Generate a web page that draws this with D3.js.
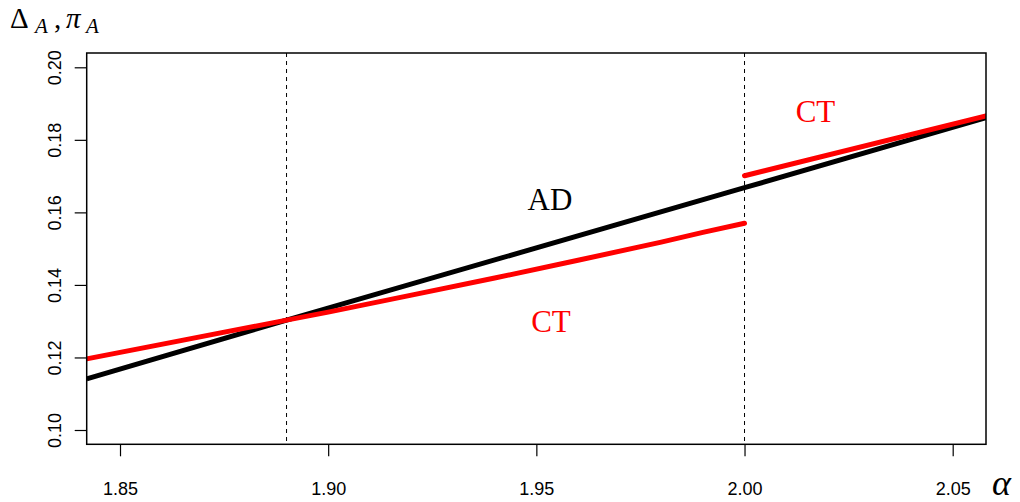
<!DOCTYPE html>
<html>
<head>
<meta charset="utf-8">
<script src="https://cdn.jsdelivr.net/npm/d3@7"></script>
<style>
  body { margin: 0; background: #fff; }
  svg { display: block; }
</style>
</head>
<body>
<div id="chart"></div>
<script>
// data
var alphaAD = [1.842, 1.89, 2.00, 2.058];
var valueAD = [0.1141, 0.1303, 0.1668, 0.1861];

var alphaCTlow = [1.842, 1.89, 1.90, 1.92, 1.94, 1.96, 1.98, 1.99, 2.00];
var valueCTlow = [0.1196, 0.1303, 0.1325, 0.1372, 0.1419, 0.1468, 0.1518, 0.1545, 0.1570];

var alphaCThigh = [2.00, 2.058];
var valueCThigh = [0.1701, 0.1866];

var xTicks = [1.85, 1.90, 1.95, 2.00, 2.05];
var yTicks = [0.10, 0.12, 0.14, 0.16, 0.18, 0.20];
var cutAlphas = [1.89, 2.00];

const W = 1020, H = 502;
const pLeft = 86.7, pRight = 986, pTop = 53, pBottom = 444.3;

const x = d3.scaleLinear().domain([1.842, 2.058]).range([pLeft, pRight]);
const y = d3.scaleLinear().domain([0.10, 0.20]).range([430, 67.3]);

const svg = d3.select("#chart").append("svg")
  .attr("width", W).attr("height", H);

const line = d3.line()
  .x((d) => x(d[0]))
  .y((d) => y(d[1]));

function pairs(a, b) {
  return a.map((v, i) => [v, b[i]]);
}

// clip to the plot region
svg.append("defs").append("clipPath").attr("id", "plotclip")
  .append("rect")
  .attr("x", pLeft).attr("y", pTop)
  .attr("width", pRight - pLeft).attr("height", pBottom - pTop);

// dashed cut lines
svg.selectAll(".cut").data(cutAlphas).enter()
  .append("line")
  .attr("class", "cut")
  .attr("x1", (d) => x(d)).attr("x2", (d) => x(d))
  .attr("y1", pTop).attr("y2", pBottom)
  .attr("stroke", "black")
  .attr("stroke-width", 1)
  .attr("stroke-dasharray", "4,4");

const plot = svg.append("g").attr("clip-path", "url(#plotclip)");

plot.append("path")
  .datum(pairs(alphaAD, valueAD))
  .attr("d", line)
  .attr("fill", "none")
  .attr("stroke", "black")
  .attr("stroke-width", 5);

plot.append("path")
  .datum(pairs(alphaCTlow, valueCTlow))
  .attr("d", line)
  .attr("fill", "none")
  .attr("stroke", "#ff0000")
  .attr("stroke-width", 5)
  .attr("stroke-linecap", "round");

plot.append("path")
  .datum(pairs(alphaCThigh, valueCThigh))
  .attr("d", line)
  .attr("fill", "none")
  .attr("stroke", "#ff0000")
  .attr("stroke-width", 5)
  .attr("stroke-linecap", "round");

// box
svg.append("rect")
  .attr("x", pLeft).attr("y", pTop)
  .attr("width", pRight - pLeft).attr("height", pBottom - pTop)
  .attr("fill", "none")
  .attr("stroke", "black")
  .attr("stroke-width", 1.5);

// axes
const xAxis = svg.append("g")
  .attr("transform", `translate(0,${pBottom})`)
  .call(d3.axisBottom(x).tickValues(xTicks).tickFormat(d3.format(".2f")).tickSize(12).tickPadding(26));
xAxis.select(".domain").remove();
xAxis.selectAll("line").attr("stroke-width", 1.2);
xAxis.selectAll("text")
  .attr("font-family", "Liberation Sans, Arial, sans-serif")
  .attr("font-size", 18)
  .attr("fill", "black");

const yAxis = svg.append("g")
  .attr("transform", `translate(${pLeft},0)`)
  .call(d3.axisLeft(y).tickValues(yTicks).tickFormat(d3.format(".2f")).tickSize(12));
yAxis.select(".domain").remove();
yAxis.selectAll("line").attr("stroke-width", 1.2);
yAxis.selectAll("text")
  .attr("font-family", "Liberation Sans, Arial, sans-serif")
  .attr("font-size", 18)
  .attr("fill", "black")
  .attr("text-anchor", "middle")
  .attr("x", 0)
  .attr("dy", 0)
  .attr("transform", "translate(-25.5,0) rotate(-90)");

// labels in the plot
const serif = "Liberation Serif, Times New Roman, serif";
svg.append("text").attr("x", 550).attr("y", 210)
  .attr("text-anchor", "middle").attr("font-family", serif).attr("font-size", 31)
  .attr("fill", "black").text("AD");
svg.append("text").attr("x", 551).attr("y", 331.5)
  .attr("text-anchor", "middle").attr("font-family", serif).attr("font-size", 31)
  .attr("fill", "#ff0000").text("CT");
svg.append("text").attr("x", 815.5).attr("y", 121.5)
  .attr("text-anchor", "middle").attr("font-family", serif).attr("font-size", 31)
  .attr("fill", "#ff0000").text("CT");

// y title
const yt = svg.append("text").attr("y", 27.5)
  .attr("font-family", serif).attr("font-size", 29).attr("fill", "black");
yt.append("tspan").attr("x", 10).text("Δ");
yt.append("tspan").attr("x", 35).attr("font-size", 21).attr("font-style", "italic").attr("dy", 5).text("A");
yt.append("tspan").attr("x", 54).attr("dy", -5).text(",");
yt.append("tspan").attr("x", 66).attr("font-style", "italic").text("π");
yt.append("tspan").attr("x", 86).attr("font-size", 21).attr("font-style", "italic").attr("dy", 5).text("A");

// x title
svg.append("text").attr("x", 992).attr("y", 495)
  .attr("font-family", serif).attr("font-size", 36).attr("font-style", "italic")
  .attr("fill", "black").text("α");
</script>
</body>
</html>
